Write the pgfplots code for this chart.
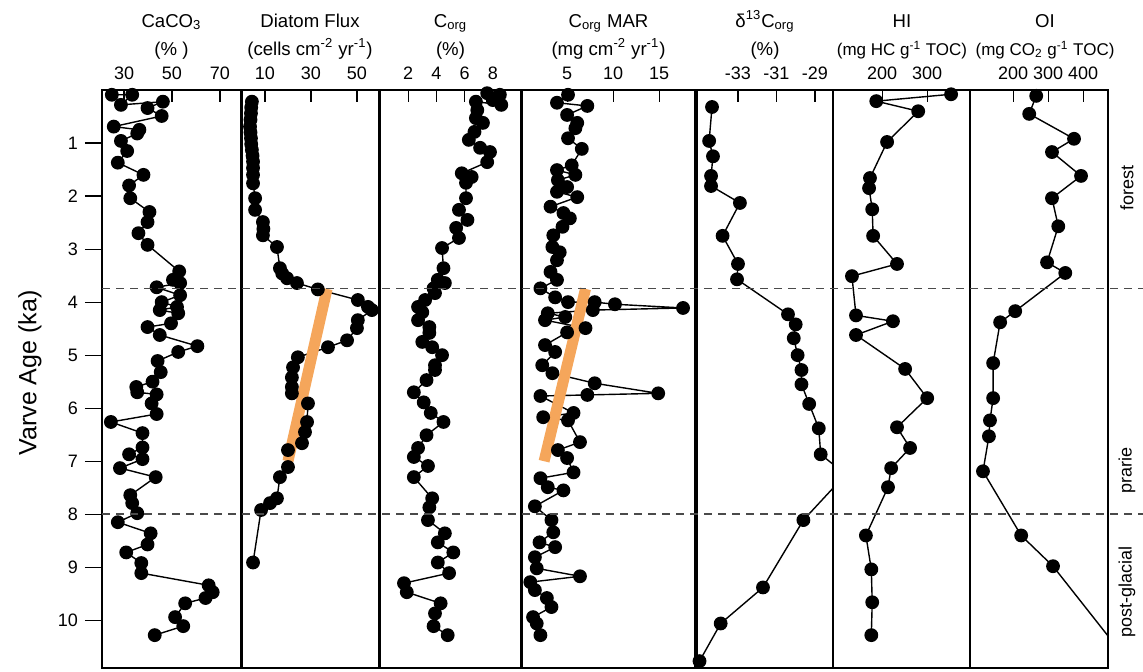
\documentclass[border=0pt]{standalone}
\usepackage{pgfplots}
\pgfplotsset{compat=1.18}
\usepackage{fontspec}
\setmainfont{Liberation Sans}
\definecolor{trendorange}{HTML}{F5A65B}
\definecolor{refgray}{HTML}{4A4A4A}

\pgfplotsset{
  panel/.style={
    scale only axis, anchor=north west, height=289pt,
    y dir=reverse, ymin=0, ymax=10.9, ytick=\empty,
    xtick pos=right, xticklabel pos=right,
    tick align=inside, major tick length=6pt,
    tick style={black, line width=0.6pt},
    axis line style={line width=0.8pt},
    /pgf/number format/assume math mode=true,
    xticklabel style={font=\fontsize{9}{10}\selectfont, yshift=1.5pt},
  },
  series/.style={black, line width=0.7pt, mark=*, mark size=3.1pt, mark options={fill=black, draw=black}},
  trend/.style={color=trendorange, line width=5.5pt, mark=none},
}
\newcommand{\tfont}{\fontsize{9.3}{11}\selectfont}
\newcommand{\sfont}{\fontsize{8.5}{10}\selectfont}

\begin{document}
\begin{tikzpicture}[x=0.5pt, y=-0.5pt]
\useasboundingbox (0,0) rectangle (1143,671);

% CaCO3
\begin{axis}[panel, at={(51pt,-45pt)}, width=69.5pt, xmin=20.8, xmax=78.8, xtick={30,50,70}]
\addplot[series] coordinates {(24.9,0.09)(33.4,0.09)(28.7,0.28)(46.2,0.22)(39.8,0.34)(45.7,0.49)(25.7,0.69)(36.4,0.75)(35.5,0.82)(28.7,0.96)(31.3,1.15)(27.4,1.37)(38.1,1.60)(32.1,1.80)(32.6,2.04)(40.6,2.30)(39.8,2.49)(36.0,2.70)(39.8,2.92)(53.0,3.42)(50.4,3.58)(53.4,3.64)(43.6,3.72)(53.4,3.87)(45.7,4.00)(52.1,4.09)(44.9,4.15)(52.6,4.21)(49.6,4.40)(39.8,4.47)(44.9,4.62)(60.6,4.83)(52.6,4.94)(44.0,5.11)(45.3,5.32)(41.9,5.50)(35.1,5.60)(35.5,5.70)(43.6,5.74)(41.5,5.91)(43.6,6.11)(24.5,6.26)(37.7,6.47)(37.7,6.74)(32.1,6.87)(37.7,6.96)(28.3,7.13)(43.2,7.30)(32.6,7.64)(33.4,7.79)(35.5,7.98)(27.4,8.15)(41.1,8.36)(39.8,8.57)(30.9,8.72)(37.2,8.92)(37.2,9.11)(65.3,9.34)(67.0,9.47)(64.0,9.58)(55.5,9.68)(51.3,9.94)(54.7,10.11)(42.8,10.28)};
\end{axis}
\begin{axis}[scale only axis, anchor=north west, at={(51pt,-45pt)}, width=69.5pt, height=289pt,
  y dir=reverse, ymin=0, ymax=10.9, xmin=0, xmax=1, axis x line=none, axis y line*=left,
  ytick={1,...,10}, tick align=outside, major tick length=8.5pt,
  tick style={black, line width=0.6pt}, axis line style={line width=0.8pt},
  /pgf/number format/assume math mode=true,
  yticklabel style={font=\fontsize{9}{10}\selectfont}]
\end{axis}

% Diatom flux
\begin{axis}[panel, at={(121pt,-45pt)}, width=68.5pt, xmin=0, xmax=59.6, xtick={10,30,50}]
\addplot[series] coordinates {(4.3,0.22)(4.0,0.33)(3.9,0.44)(3.7,0.56)(3.5,0.69)(3.7,0.80)(3.9,0.91)(4.0,1.02)(4.3,1.13)(4.6,1.24)(4.8,1.35)(4.8,1.47)(4.8,1.60)(4.8,1.76)(5.7,2.04)(5.7,2.26)(9.1,2.49)(9.3,2.62)(9.1,2.74)(15.2,2.96)(16.5,3.36)(17.5,3.46)(19.6,3.55)(23.9,3.64)(33.0,3.76)(50.4,3.96)(54.8,4.09)(56.5,4.15)(50.4,4.34)(50.0,4.49)(45.7,4.72)(37.4,4.85)(24.3,5.04)(22.2,5.23)(21.7,5.42)(21.7,5.60)(21.7,5.72)(28.7,5.91)(28.3,6.26)(27.4,6.45)(26.1,6.66)(20.0,6.79)(20.0,7.11)(16.5,7.30)(15.2,7.70)(12.2,7.79)(8.3,7.92)(4.8,8.91)};
\addplot[trend] coordinates {(37,3.75)(20,7.0)};
\end{axis}

% Corg
\begin{axis}[panel, at={(190pt,-45pt)}, width=70.5pt, xmin=0, xmax=10, xtick={2,4,6,8}]
\addplot[series] coordinates {(7.6,0.06)(8.5,0.09)(8.0,0.19)(8.6,0.28)(6.8,0.22)(6.9,0.38)(6.8,0.53)(7.3,0.62)(6.7,0.79)(6.3,0.94)(7.1,1.09)(7.8,1.17)(7.6,1.36)(5.8,1.57)(6.5,1.64)(6.1,1.75)(6.1,2.04)(5.6,2.26)(6.2,2.45)(5.4,2.60)(5.6,2.79)(4.4,2.98)(4.5,3.36)(4.1,3.58)(4.6,3.64)(3.8,3.74)(3.9,3.83)(3.2,3.96)(2.7,4.09)(3.0,4.19)(2.7,4.34)(3.5,4.47)(3.5,4.58)(3.0,4.75)(3.7,4.85)(4.4,5.00)(3.9,5.19)(3.9,5.28)(3.3,5.47)(2.4,5.70)(3.1,5.89)(3.6,6.09)(4.5,6.26)(3.3,6.51)(2.7,6.75)(2.4,6.92)(3.4,7.09)(2.4,7.30)(3.7,7.70)(3.5,7.87)(3.4,8.11)(4.6,8.36)(4.1,8.53)(5.2,8.72)(4.1,8.91)(4.9,9.11)(1.7,9.30)(1.9,9.47)(4.3,9.68)(3.9,9.87)(3.8,10.11)(4.8,10.28)};
\end{axis}

% Corg MAR
\begin{axis}[panel, at={(261pt,-45pt)}, width=86.5pt, xmin=0.1, xmax=18.9, xtick={5,10,15}]
\addplot[series] coordinates {(5.1,0.09)(3.9,0.24)(7.2,0.30)(5.0,0.47)(6.1,0.62)(5.9,0.72)(5.1,0.91)(6.6,1.11)(5.5,1.42)(3.9,1.51)(5.9,1.60)(4.0,1.70)(5.0,1.83)(3.9,1.92)(6.1,2.02)(3.2,2.20)(4.6,2.32)(5.3,2.42)(4.5,2.58)(3.5,2.74)(3.4,2.96)(4.2,3.06)(3.9,3.21)(3.2,3.43)(3.9,3.58)(2.1,3.74)(3.7,3.91)(5.1,4.00)(8.0,4.00)(10.2,4.04)(17.6,4.11)(7.8,4.15)(2.9,4.21)(4.8,4.28)(2.6,4.34)(7.0,4.49)(5.0,4.57)(2.6,4.81)(3.7,4.94)(2.3,5.19)(3.4,5.34)(8.0,5.53)(14.9,5.72)(7.2,5.75)(2.1,5.77)(5.7,6.09)(2.4,6.17)(5.1,6.23)(6.4,6.64)(4.0,6.79)(5.0,6.94)(5.7,7.21)(2.1,7.32)(2.9,7.49)(4.6,7.55)(1.5,7.85)(3.3,8.11)(3.5,8.34)(2.0,8.53)(3.7,8.62)(1.5,8.81)(1.7,9.02)(6.4,9.17)(1.0,9.28)(1.5,9.43)(2.8,9.58)(3.3,9.75)(1.3,9.94)(1.7,10.06)(2.1,10.28)};
\addplot[trend] coordinates {(7,3.75)(2.5,7.0)};
\end{axis}

% d13C
\begin{axis}[panel, at={(348.5pt,-45pt)}, width=68pt, xmin=-35.13, xmax=-28.06, xtick={-33,-31,-29}]
\addplot[series] coordinates {(-34.35,0.32)(-34.5,0.96)(-34.3,1.25)(-34.4,1.62)(-34.4,1.81)(-32.9,2.13)(-33.8,2.75)(-33.0,3.28)(-33.05,3.57)(-30.4,4.23)(-30.0,4.42)(-30.1,4.68)(-29.9,5.00)(-29.7,5.28)(-29.7,5.55)(-29.3,5.92)(-28.8,6.38)(-28.7,6.87)(-27.4,7.25)(-29.6,8.11)(-31.7,9.38)(-33.9,10.06)(-35.0,10.77)};
\end{axis}

% HI
\begin{axis}[panel, at={(416.5pt,-45pt)}, width=68.5pt, xmin=91, xmax=395, xtick={200,300}]
\addplot[series] coordinates {(353,0.08)(187,0.21)(280,0.40)(211,0.98)(173,1.66)(171,1.85)(178,2.25)(180,2.75)(233,3.28)(133,3.51)(142,4.25)(224,4.36)(142,4.62)(251,5.26)(300,5.81)(233,6.36)(262,6.75)(220,7.13)(213,7.49)(164,8.40)(176,9.04)(178,9.66)(176,10.28)};
\end{axis}

% OI
\begin{axis}[panel, at={(485pt,-45pt)}, width=69pt, xmin=77, xmax=471, xtick={200,300,400}]
\addplot[series] coordinates {(266,0.11)(246,0.45)(374,0.92)(311,1.17)(394,1.62)(311,2.04)(329,2.57)(297,3.25)(349,3.45)(206,4.17)(163,4.38)(143,5.15)(143,5.81)(134,6.23)(131,6.53)(114,7.19)(223,8.40)(314,8.98)(474,10.32)};
\end{axis}

% zone boundaries
\draw[refgray, line width=0.7pt, dash pattern=on 4pt off 3pt] (102,288.75) -- (1143,288.75);
\draw[refgray, line width=0.7pt, dash pattern=on 4pt off 3pt] (102,514) -- (1143,514);

% titles
\node[anchor=base, font=\tfont] at (171.5,27) {CaCO\textsubscript{3}};
\node[anchor=base, font=\tfont] at (171.5,55) {(\% )};
\node[anchor=base, font=\tfont] at (310,27) {Diatom Flux};
\node[anchor=base, font=\tfont] at (310,55) {(cells cm\textsuperscript{-2} yr\textsuperscript{-1})};
\node[anchor=base, font=\tfont] at (450.5,27) {C\textsubscript{org}};
\node[anchor=base, font=\tfont] at (450.5,55) {(\%)};
\node[anchor=base, font=\tfont] at (608.5,27) {C\textsubscript{org} MAR};
\node[anchor=base, font=\tfont] at (608.5,55) {(mg cm\textsuperscript{-2} yr\textsuperscript{-1})};
\node[anchor=base, font=\tfont] at (765,27) {δ\textsuperscript{13}C\textsubscript{org}};
\node[anchor=base, font=\tfont] at (765,55) {(\%)};
\node[anchor=base, font=\tfont] at (902,27) {HI};
\node[anchor=base, font=\sfont, inner sep=0pt] at (902,55) {(mg HC g\textsuperscript{-1} TOC)};
\node[anchor=base, font=\tfont] at (1045,27) {OI};
\node[anchor=base, font=\sfont, inner sep=0pt] at (1045,55) {(mg CO\textsubscript{2} g\textsuperscript{-1} TOC)};

\node[rotate=90, font=\fontsize{12.5}{14}\selectfont] at (30,373) {Varve Age (ka)};
\node[rotate=90, font=\fontsize{9}{10}\selectfont] at (1127,188) {forest};
\node[rotate=90, font=\fontsize{9}{10}\selectfont] at (1127,470) {prarie};
\node[rotate=90, font=\fontsize{9}{10}\selectfont] at (1127,592) {post-glacial};
\end{tikzpicture}
\end{document}
